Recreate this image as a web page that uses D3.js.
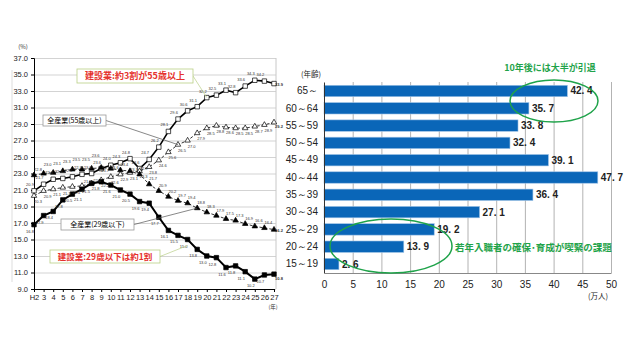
<!DOCTYPE html>
<html>
<head>
<meta charset="utf-8">
<script src="https://cdn.jsdelivr.net/npm/d3@7"></script>
<style>
  body { margin: 0; background: #fff; }
  svg { display: block; }
</style>
</head>
<body>
<script>
// ---- left chart: age shares by year (%)
const years = ['H2','3','4','5','6','7','8','9','10','11','12','13','14','15','16','17','18','19','20','21','22','23','24','25','26','27'];
const kensetsu55 = [20.9,21.7,22.3,22.4,22.6,22.9,23.0,23.6,24.0,24.3,24.8,23.6,24.7,26.2,28.1,29.6,30.6,31.1,32.2,32.5,33.1,32.8,33.6,34.3,34.2,33.9];
const zensangyo55 = [20.3,20.9,21.1,21.3,21.4,21.5,21.8,22.2,22.6,22.9,23.1,23.3,23.8,24.6,25.6,26.5,27.0,27.9,28.5,28.8,28.6,28.5,28.5,28.7,28.9,29.2];
const zensangyo29 = [22.8,23.0,23.1,23.3,23.5,23.5,23.6,23.7,23.6,23.4,23.3,22.9,21.7,20.9,20.2,19.7,19.4,18.8,18.3,17.9,17.5,17.3,16.9,16.6,16.4,16.2];
const kensetsu29 = [16.8,17.9,18.4,19.8,20.5,21.1,21.8,22.0,21.6,21.0,20.5,19.6,19.4,17.7,16.1,15.5,15.0,13.8,13.0,12.8,11.6,11.8,11.1,10.2,10.7,10.8];
const yTicks = [9,11,13,15,17,19,21,23,25,27,29,31,33,35,37];

// ---- right chart: workers by age group (10k people)
const ageGroups = ['65～','60～64','55～59','50～54','45～49','40～44','35～39','30～34','25～29','20～24','15～19'];
const workers = [42.4,35.7,33.8,32.4,39.1,47.7,36.4,27.1,19.2,13.9,2.6];
const xTicks = [0,5,10,15,20,25,30,35,40,45,50];

const numFont = '"Liberation Sans Narrow", "Liberation Sans", Arial, sans-serif';
const jpFont = '"Noto Sans CJK JP", "Noto Sans", sans-serif';

const svg = d3.select('body').append('svg')
  .attr('width', 640).attr('height', 360);

// ================= LEFT CHART =================
const x = d3.scalePoint().domain(years).range([34, 274]);
const y = d3.scaleLinear().domain([9, 37]).range([289, 58]);

// outer frame line on the left
svg.append('line')
  .attr('x1', 12).attr('x2', 12).attr('y1', 70).attr('y2', 282)
  .attr('stroke', '#ddd');

// gridlines
svg.append('g')
  .attr('transform', 'translate(34,0)')
  .call(d3.axisLeft(y).tickValues(yTicks).tickSize(-242).tickFormat(''))
  .call(g => g.select('.domain').remove())
  .selectAll('line').attr('stroke', '#c8c8c8').attr('stroke-width', 0.8);

svg.append('line')
  .attr('x1', 276).attr('x2', 276).attr('y1', y(37)).attr('y2', y(9))
  .attr('stroke', '#c8c8c8');

// y axis
const yAxis = svg.append('g')
  .attr('transform', 'translate(34,0)')
  .call(d3.axisLeft(y).tickValues(yTicks).tickSize(3).tickFormat(d3.format('.1f')));
yAxis.selectAll('text').attr('font-family', numFont).attr('font-size', 7.5).attr('fill', '#222');

// x axis
const xAxis = svg.append('g')
  .attr('transform', `translate(0,${y(9)})`)
  .call(d3.axisBottom(x).tickSize(3).tickPadding(3));
xAxis.selectAll('text').attr('font-family', numFont).attr('font-size', 7.5).attr('fill', '#222');

svg.append('text').text('(%)')
  .attr('x', 23).attr('y', 49).attr('font-family', jpFont).attr('font-size', 6).attr('fill', '#333')
  .attr('text-anchor', 'middle');
svg.append('text').text('(年)')
  .attr('x', 273).attr('y', 309).attr('font-family', jpFont).attr('font-size', 5.5).attr('fill', '#333')
  .attr('text-anchor', 'middle');

const series = [
  { vals: kensetsu55, dash: null, width: 1.6, shape: 'square', fill: '#fff', ldx: -4, ldy: -5 },
  { vals: zensangyo55, dash: '3,2', width: 0.8, shape: 'triangle', fill: '#fff', ldx: 4, ldy: 7 },
  { vals: zensangyo29, dash: '3,2', width: 0.8, shape: 'triangle', fill: '#000', ldx: 4, ldy: -4 },
  { vals: kensetsu29, dash: null, width: 2, shape: 'square', fill: '#000', ldx: -4, ldy: 8 }
];

const line = d3.line().x((d, i) => x(years[i])).y(d => y(d));

series.forEach(s => {
  svg.append('path')
    .datum(s.vals)
    .attr('d', line)
    .attr('fill', 'none')
    .attr('stroke', '#000')
    .attr('stroke-width', s.width)
    .attr('stroke-dasharray', s.dash);

  const sym = d3.symbol()
    .type(s.shape === 'square' ? d3.symbolSquare : d3.symbolTriangle)
    .size(s.shape === 'square' ? 20 : 13);

  svg.append('g').selectAll('path')
    .data(s.vals)
    .join('path')
    .attr('d', sym)
    .attr('transform', (d, i) => `translate(${x(years[i])},${y(d)})`)
    .attr('fill', s.fill)
    .attr('stroke', '#000')
    .attr('stroke-width', 0.7);
});

// tiny point labels, nudged so they don't sit on top of each other
const placed = [];
const labelG = svg.append('g');
const overlaps = b => placed.some(p =>
  b.x < p.x + p.width + 0.5 && p.x < b.x + b.width + 0.5 &&
  b.y < p.y + p.height && p.y < b.y + b.height);

series.forEach(s => {
  const last = s.vals.length - 1;
  s.vals.forEach((d, i) => {
    const px = x(years[i]), py = y(d);
    const baseDx = i === last ? 5 : s.ldx;
    const baseDy = i === last ? (s.ldy > 0 ? 6 : 2) : s.ldy;
    const t = labelG.append('text')
      .text(d.toFixed(1))
      .attr('text-anchor', 'middle')
      .attr('font-family', numFont)
      .attr('font-size', 4)
      .attr('font-weight', i === last ? 'bold' : 'normal')
      .attr('fill', '#333');
    const tries = [[0,0],[0,-4],[0,4],[-4,0],[4,0],[0,-8],[0,8],[-4,-4],[4,4],[-4,4],[4,-4]];
    for (const [ex, ey] of tries) {
      t.attr('x', px + baseDx + ex).attr('y', py + baseDy + ey);
      if (!overlaps(t.node().getBBox())) break;
    }
    placed.push(t.node().getBBox());
  });
});

// callouts
function callout(bx, by, bw, bh, txt, color, border, size, tx, ty) {
  svg.append('line')
    .attr('x1', bx + bw).attr('y1', by + bh / 2).attr('x2', tx).attr('y2', ty)
    .attr('stroke', border === '#999' ? '#555' : '#b9cf86').attr('stroke-width', 0.7);
  svg.append('rect')
    .attr('x', bx).attr('y', by).attr('width', bw).attr('height', bh)
    .attr('fill', '#fff').attr('stroke', border).attr('stroke-width', 0.8);
  svg.append('text').text(txt)
    .attr('x', bx + bw / 2).attr('y', by + bh / 2 + size * 0.36)
    .attr('text-anchor', 'middle')
    .attr('font-family', jpFont).attr('font-size', size)
    .attr('font-weight', color === '#000' ? 'normal' : 'bold')
    .attr('fill', color);
}

callout(77, 69, 116, 14, '建設業:約3割が55歳以上', '#e5322d', '#b9cf86', 9,
  x(years[18]), y(kensetsu55[18]));
callout(43, 115, 63, 11, '全産業(55歳以上)', '#000', '#999', 7,
  x(years[15]), y(zensangyo55[15]));
callout(61, 219, 73, 11, '全産業(29歳以下)', '#000', '#999', 7,
  x(years[17]), y(zensangyo29[17]));
callout(50, 250, 110, 13, '建設業:29歳以下は約1割', '#e5322d', '#b9cf86', 8.5,
  x(years[16]), y(kensetsu29[16]) + 6);

// ================= RIGHT CHART =================
const xb = d3.scaleLinear().domain([0, 50]).range([324, 611]);
const yb = d3.scaleBand().domain(ageGroups).range([82, 273]).paddingInner(0.34).paddingOuter(0.19);

// vertical gridlines
svg.append('g')
  .attr('transform', 'translate(0,82)')
  .call(d3.axisTop(xb).tickValues(xTicks.slice(1)).tickSize(-191).tickFormat(''))
  .call(g => g.select('.domain').remove())
  .selectAll('line').attr('stroke', '#a0a0a0').attr('stroke-width', 0.8);

// bars
svg.append('g').selectAll('rect')
  .data(workers)
  .join('rect')
  .attr('x', xb(0))
  .attr('y', (d, i) => yb(ageGroups[i]))
  .attr('width', d => xb(d) - xb(0))
  .attr('height', yb.bandwidth())
  .attr('fill', '#0a66b8')
  .attr('stroke', '#9fc3e6')
  .attr('stroke-width', 0.6);

// value labels
svg.append('g').selectAll('text')
  .data(workers)
  .join('text')
  .text(d => d.toFixed(1).replace('.', '. '))
  .attr('x', d => xb(d) + 3)
  .attr('y', (d, i) => yb(ageGroups[i]) + yb.bandwidth() / 2 + 3.5)
  .attr('font-family', numFont)
  .attr('font-size', 10)
  .attr('font-weight', 'bold')
  .attr('fill', '#222');

// axes
const bAxisY = svg.append('g')
  .attr('transform', `translate(${xb(0)},0)`)
  .call(d3.axisLeft(yb).tickSize(0).tickPadding(6));
bAxisY.select('.domain').attr('stroke', '#333');
bAxisY.selectAll('text').attr('font-family', numFont).attr('font-size', 10).attr('fill', '#222');

const bAxisX = svg.append('g')
  .attr('transform', 'translate(0,273)')
  .call(d3.axisBottom(xb).tickValues(xTicks).tickSize(0).tickPadding(8));
bAxisX.select('.domain').attr('stroke', '#888');
bAxisX.selectAll('text').attr('font-family', numFont).attr('font-size', 10).attr('fill', '#222');

svg.append('text').text('(年齢)')
  .attr('x', 311).attr('y', 77).attr('text-anchor', 'middle')
  .attr('font-family', jpFont).attr('font-size', 7.5).attr('fill', '#222');
svg.append('text').text('(万人)')
  .attr('x', 598).attr('y', 299).attr('text-anchor', 'middle')
  .attr('font-family', jpFont).attr('font-size', 7.5).attr('fill', '#222');

// green annotations
const green = '#1fa34a';
svg.append('ellipse')
  .attr('cx', 554).attr('cy', 101).attr('rx', 44).attr('ry', 21)
  .attr('fill', 'none').attr('stroke', green).attr('stroke-width', 1.5);
svg.append('ellipse')
  .attr('cx', 391).attr('cy', 246).attr('rx', 61).attr('ry', 27)
  .attr('fill', 'none').attr('stroke', green).attr('stroke-width', 1.5);
svg.append('text').text('10年後には大半が引退')
  .attr('x', 550).attr('y', 71).attr('text-anchor', 'middle')
  .attr('font-family', jpFont).attr('font-size', 9).attr('font-weight', 'bold').attr('fill', green);
svg.append('text').text('若年入職者の確保･育成が喫緊の課題')
  .attr('x', 455).attr('y', 251)
  .attr('font-family', jpFont).attr('font-size', 9.5).attr('font-weight', 'bold').attr('fill', green);
</script>
</body>
</html>
